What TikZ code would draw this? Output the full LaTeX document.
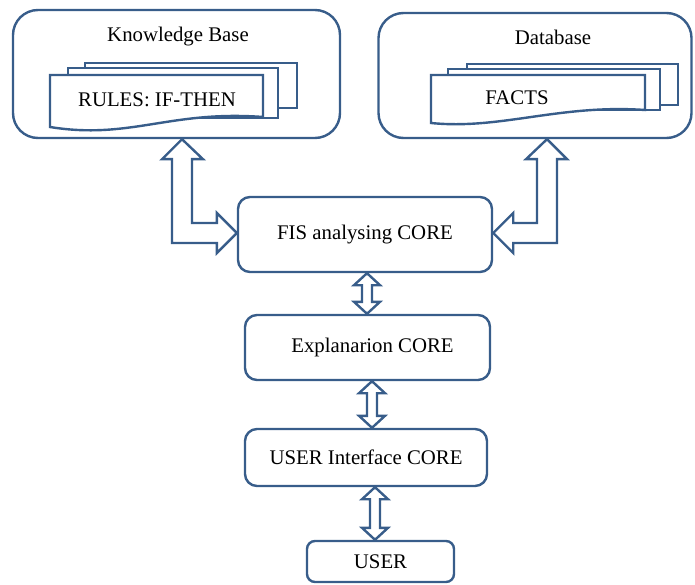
\documentclass[tikz,border=0pt]{standalone}
\usepackage{fontspec}
\setmainfont{Liberation Serif}
\usepackage{xcolor}
\usepackage{tikz}
\usetikzlibrary{positioning,calc}
\definecolor{boxblue}{RGB}{56,93,138}
\tikzset{
 box/.style={draw=boxblue, line width=2.4pt, rounded corners=#1, fill=white, inner sep=0pt, font=\fontsize{20.8}{25}\selectfont},
 box/.default=12pt,
 sheet/.style={draw=boxblue, line width=2.4pt, fill=white},
 hollow/.style={draw=boxblue, line width=2.4pt, fill=white},
 lbl/.style={font=\fontsize{20.8}{25}\selectfont, inner sep=0pt}
}
\newcommand{\updown}[3]{%
\draw[hollow] (#1 -| #3) -- ++(13,12) -- ++(-8,0) -- ($(#2 -| #3)+(5,-12)$) -- ++(8,0) -- (#2 -| #3) -- ++(-13,-12) -- ++(8,0) -- ($(#1 -| #3)+(-5,12)$) -- ++(-8,0) -- cycle;}

\begin{document}
\begin{tikzpicture}[x=1pt,y=-1pt]
\useasboundingbox (0,0) rectangle (695,585);
\node[box=25pt, minimum width=327pt, minimum height=128pt] (kb) at (176.5,74) {};
\node[box=25pt, minimum width=313pt, minimum height=125pt] (db) at (535,75.5) {};
\node[lbl] (kbname) at (178,37) {Knowledge Base};
\node[lbl] (dbname) at (553,37) {Database};
\draw[sheet] (85,63) rectangle (297,108);
\draw[sheet] (68,68) rectangle (278,118);
\draw[sheet] (50,75) -- (263,75) -- (263,117) .. controls (170,110) and (130,140) .. (50,127) -- cycle;
\node[lbl] (rules) at (157,100) {RULES: IF-THEN};
\draw[sheet] (467,64) rectangle (678,105);
\draw[sheet] (448,69) rectangle (660,110);
\draw[sheet] (431,75) -- (645,75) -- (645,110) .. controls (560,104) and (500,130) .. (431,123) -- cycle;
\node[lbl] (facts) at (517,98) {FACTS};
\node[box, minimum width=254pt, minimum height=75pt] (fis) at (365,234.5) {FIS analysing CORE};
\node[box, minimum width=245pt, minimum height=65pt] (expl) at (367.5,347.5) {\hspace{10pt}Explanarion CORE};
\node[box, minimum width=242pt, minimum height=57pt] (ui) at (366,457.5) {USER Interface CORE};
\node[box=8pt, minimum width=147pt, minimum height=41pt] (user) at (380.5,561.5) {USER};
\coordinate (lx) at (182,233);
\coordinate (rx) at (547,233);
\draw[hollow] (kb.south -| lx) -- ++(21,20) -- ++(-11,0) |- ($(fis.west |- lx)+(-20,-10)$) -- ++(0,-10) -- (fis.west |- lx) -- ++(-20,20) -- ++(0,-10) -| ($(kb.south -| lx)+(-10,20)$) -- ++(-10,0) -- cycle;
\draw[hollow] (db.south -| rx) -- ++(-21,20) -- ++(11,0) |- ($(fis.east |- rx)+(20,-10)$) -- ++(0,-10) -- (fis.east |- rx) -- ++(20,20) -- ++(0,-10) -| ($(db.south -| rx)+(10,20)$) -- ++(10,0) -- cycle;
\coordinate (ax) at (367,0);
\coordinate (bx) at (372,0);
\coordinate (cx) at (375,0);
\updown{fis.south}{expl.north}{ax}
\updown{expl.south}{ui.north}{bx}
\updown{ui.south}{user.north}{cx}
\end{tikzpicture}
\end{document}
